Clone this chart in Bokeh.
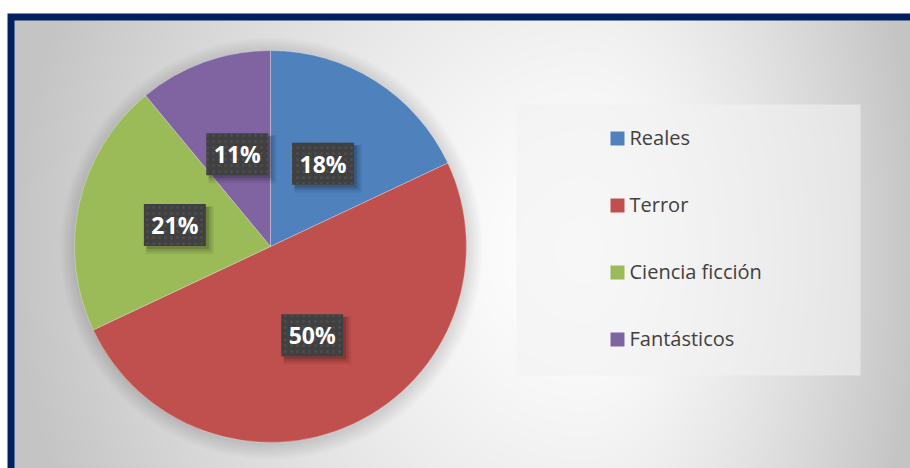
import numpy as np
from bokeh.plotting import figure
from bokeh.models import ColumnDataSource, Range1d
from bokeh.core.properties import value
from bokeh.embed import file_html
from bokeh.resources import INLINE

# ---- data ----
categories = ["Reales", "Terror", "Ciencia ficción", "Fantásticos"]
percent = [18, 50, 21, 11]
colors = ["#4F81BD", "#C0504D", "#9BBB59", "#8064A2"]
labels = [f"{v}%" for v in percent]

W, H = 910, 468

p = figure(width=W, height=H, output_backend="svg", toolbar_location=None,
           x_range=Range1d(0, W), y_range=Range1d(0, H), min_border=0)
p.axis.visible = False
p.grid.visible = False
p.outline_line_color = None
p.background_fill_color = "white"
p.border_fill_color = "white"

# screen -> data helpers
def sx(x):
    return x
def sy(y):
    return H - y

# navy frame
p.quad(left=sx(7), right=W + 20, bottom=-20, top=sy(13), fill_color="#002060", line_color=None)

# gradient background
x0, ytop = 14, 20
gw, gh = W - x0, H - ytop
xs = x0 + np.arange(gw) + 0.5
ys = ytop + np.arange(gh)[::-1] + 0.5
X, Y = np.meshgrid(xs, ys)
cx, cy = 585.0, 250.0
dxn = np.where(X < cx, (X - cx) / 575.0, (X - cx) / 335.0)
dyn = (Y - cy) / 620.0
t = np.clip(np.sqrt(dxn ** 2 + dyn ** 2), 0, 1)
g = (255 - (255 - 196) * t ** 1.4).astype(np.uint32)
img = (np.uint32(255) << 24) | (g << 16) | (g << 8) | g
p.image_rgba(image=[img.astype(np.uint32)], x=sx(x0), y=0, dw=gw, dh=gh)

# legend box
p.quad(left=sx(516), right=sx(860), bottom=sy(375), top=sy(104),
       fill_color="#f2f2f2", fill_alpha=0.6, line_color=None)

# pie
pcx, pcy, r = sx(270), sy(246), 196
for k in range(10):
    p.circle(x=pcx + 1, y=pcy - 2, radius=r + 1 + k * 1.6, fill_color="black",
             fill_alpha=0.012, line_color=None)

vals = np.array(percent, dtype=float)
frac = vals / vals.sum()
cum = np.concatenate([[0], np.cumsum(frac)])
start = np.pi / 2 - 2 * np.pi * cum[:-1]
end = np.pi / 2 - 2 * np.pi * cum[1:]
mid = (start + end) / 2
src = ColumnDataSource(dict(cat=categories, start=start, end=end, color=colors,
                            lx=pcx + 0.5 * r * np.cos(mid), ly=pcy + 0.5 * r * np.sin(mid),
                            label=labels))
p.wedge(x=pcx, y=pcy, radius=r, start_angle="end", end_angle="start", direction="anticlock",
        fill_color="color", line_color="white", line_width=0.6, line_alpha=0.5, source=src)

# label boxes with shadow
bw, bh = 62, 42
for off, grow, a in [(5, 6, 0.07), (4, 3, 0.10), (3, 0, 0.15)]:
    p.rect(x=src.data["lx"] + off, y=src.data["ly"] - off, width=bw + grow, height=bh + grow,
           fill_color="black", fill_alpha=a, line_color=None)
p.rect(x="lx", y="ly", width=bw, height=bh, fill_color="#404040", line_color=None,
       hatch_pattern="dot", hatch_color="#4c4c4c", hatch_scale=6, hatch_weight=1.2,
       source=src)
p.text(x="lx", y="ly", text="label", text_align="center", text_baseline="middle",
       text_color="white", text_font=value("Open Sans"), text_font_style="bold",
       text_font_size="23px", source=src)

# legend
n = len(categories)
leg = ColumnDataSource(dict(
    sqx=[sx(617)] * n,
    sqy=[sy(138) - i * 67 for i in range(n)],
    tx=[sx(629)] * n,
    ty=[sy(137) - i * 67 for i in range(n)],
    cat=categories, color=colors))
p.rect(x="sqx", y="sqy", width=14, height=14, fill_color="color", line_color=None, source=leg)
p.text(x="tx", y="ty", text="cat", text_align="left", text_baseline="middle",
       text_color="#404040", text_font=value("Open Sans"), text_font_size="20px", source=leg)

open("out.html", "w").write(file_html(p, INLINE))
